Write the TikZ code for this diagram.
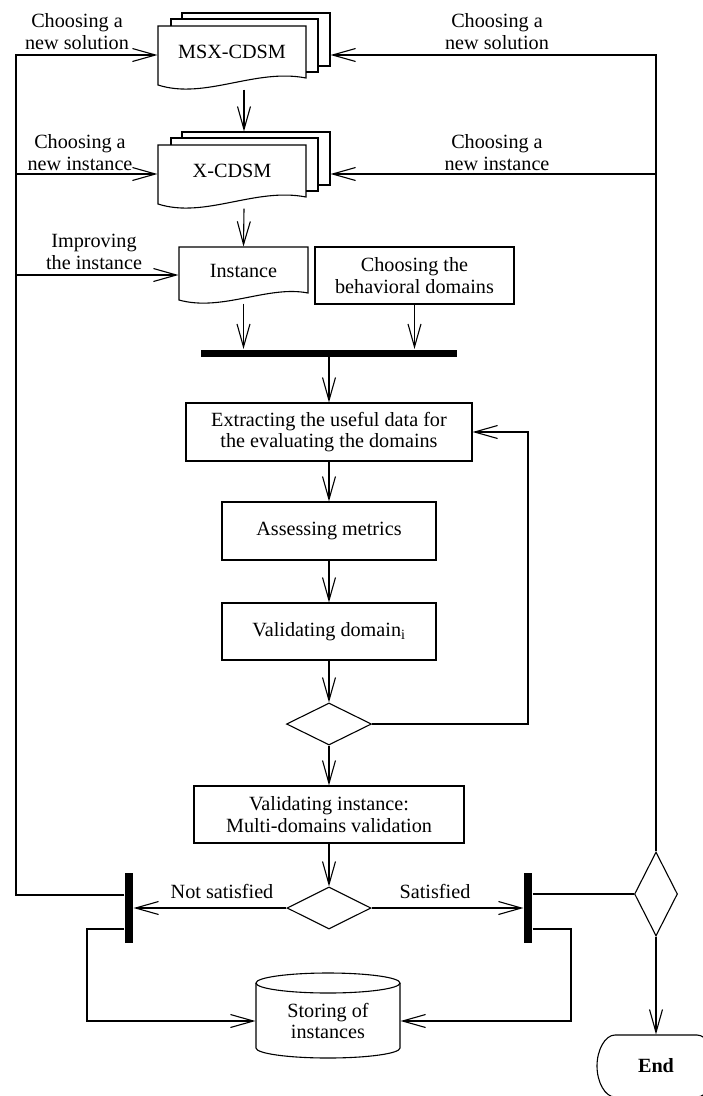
\documentclass[tikz,border=0pt]{standalone}
\usepackage{fontspec}
\setmainfont{Liberation Serif}
\usetikzlibrary{arrows.meta,shapes.geometric,calc}
\newcommand\mystack[1]{%
  \begin{scope}[shift={(0,#1)}]
    \draw (182,19) -- (182,13) -- (330,13) -- (330,66) -- (318,66);
    \draw (171,26) -- (171,19) -- (318,19) -- (318,72) -- (306,72);
    \draw (158,26) -- (306,26) -- (306,78) .. controls (255,68) and (205,100) .. (158,85) -- cycle;
  \end{scope}}
\begin{document}
\begin{tikzpicture}[x=1pt,y=-1pt,
  line width=1.1pt,
  font=\fontsize{20.2}{21.5}\selectfont,
  arr/.style={-{Straight Barb[length=23pt,width=13pt,line width=1.1pt]}},
  txt/.style={align=center, inner sep=0pt},
  box/.style={draw, rectangle, align=center, inner sep=0pt},
  dec/.style={draw, diamond, inner sep=0pt},
  barnode/.style={fill=black, rectangle, inner sep=0pt},
  hole/.style={inner sep=0pt, rectangle}
]
\useasboundingbox (0,0) rectangle (703,1096);
\clip (0,0) rectangle (703,1096);

% document stacks
\mystack{0}
\mystack{119}
\node[hole, minimum width=148pt, minimum height=59pt, label={[txt,yshift=3pt]center:MSX-CDSM}] (msx) at (232,55) {};
\node[hole, minimum width=172pt, minimum height=76pt] (msxstack) at (244,51) {};
\node[hole, minimum width=148pt, minimum height=59pt, label={[txt,yshift=3pt]center:X-CDSM}] (xc) at (232,174) {};
\node[hole, minimum width=172pt, minimum height=76pt] (xcstack) at (244,170) {};

% instance document
\draw (179,247) -- (308,247) -- (308,293) .. controls (268,285) and (222,312) .. (179,300) -- cycle;
\node[hole, minimum width=129pt, minimum height=56pt, label={[txt,yshift=4pt]center:Instance}] (inst) at (243.5,275) {};

\node[box, minimum width=199pt, minimum height=57pt] (choose) at (414.5,275.5) {Choosing the\\behavioral domains};
\node[barnode, minimum width=256pt, minimum height=7pt] (bar) at (329,353) {};
\node[box, minimum width=286pt, minimum height=58pt] (extract) at (329,432) {Extracting the useful data for\\the evaluating the domains};
\node[box, minimum width=214pt, minimum height=58pt] (assess) at (329,531) {Assessing metrics};
\node[box, minimum width=214pt, minimum height=57pt] (valid) at (329,631.5) {Validating domain\textsubscript{i}};
\node[dec, minimum width=85pt, minimum height=42pt] (d1) at (329,724) {};
\node[box, minimum width=270pt, minimum height=57pt] (valinst) at (329,814.5) {Validating instance:\\Multi-domains validation};
\node[dec, minimum width=84pt, minimum height=42pt] (d2) at (329,908) {};
\node[barnode, minimum width=8pt, minimum height=70pt] (lbar) at (129,908) {};
\node[barnode, minimum width=8pt, minimum height=70pt] (rbar) at (528,908) {};
\node[dec, minimum width=43pt, minimum height=84pt] (d3) at (656,894) {};

% end terminator (cut by the page edge)
\draw (697,1035) -- (615,1035) .. controls (605,1035) and (597,1050) .. (597,1066)
      .. controls (597,1082) and (605,1097) .. (615,1097) -- (697,1097)
      .. controls (707,1097) and (715,1082) .. (715,1066)
      .. controls (715,1050) and (707,1035) .. (697,1035);
\node[txt, minimum width=118pt, minimum height=62pt, font=\fontsize{20.2}{21.5}\selectfont\bfseries] (endn) at (656,1066) {End};

% cylinder
\draw (328,983) ellipse [x radius=72pt, y radius=10pt];
\draw (256,983) -- (256,1048) .. controls (256,1053.5) and (288.2,1058) .. (328,1058) .. controls (367.8,1058) and (400,1053.5) .. (400,1048) -- (400,983);
\node[txt, minimum width=144pt] (store) at (328,1021) {Storing of\\instances};

% labels
\node[txt] (l1) at (77,31.5) {Choosing a\\new solution};
\node[txt] (r1) at (497,31.5) {Choosing a\\new solution};
\node[txt] (l2) at (80,152.5) {Choosing a\\new instance};
\node[txt] (r2) at (497,152.5) {Choosing a\\new instance};
\node[txt] (l3) at (94,252) {Improving\\the instance};
\node[txt] (ns) at (222,891) {Not satisfied};
\node[txt] (sat) at (435,891) {Satisfied};

% coordinates
\coordinate (lt) at (16,895);
\coordinate (loopx) at (528,724);
\coordinate (lb) at (87,929);
\coordinate (rb) at (571,929);

% connectors
\draw[arr] (msxstack.south) -- (xcstack.north);
\draw[arr] (xcstack.south) -- (inst.north);
\draw[arr] (inst.south) -- (inst.south |- bar.north);
\draw[arr] (choose.south) -- (choose.south |- bar.north);
\draw[arr] (bar.south) -- (extract.north);
\draw[arr] (extract) -- (assess);
\draw[arr] (assess) -- (valid);
\draw[arr] (valid) -- (d1);
\draw[arr] (d1.east) -- (loopx) |- (extract.east);
\draw[arr] (d1) -- (valinst);
\draw[arr] (valinst) -- (d2);
\draw[arr] (d2.west) -- (lbar.east);
\draw[arr] (d2.east) -- (rbar.west);

\draw[arr] (lbar.west |- lt) -- (lt) |- (msx.west);
\draw[arr] (lt |- xc.west) -- (xc.west);
\draw[arr] (lt |- inst.west) -- (inst.west);

\draw (rbar.east |- d3.west) -- (d3.west);
\draw[arr] (d3.north) -- (d3.north |- msx) -- (msx -| msxstack.east);
\draw[arr] (d3.north |- xc) -- (xc -| xcstack.east);
\draw[arr] (d3.south) -- (endn.north);

\draw[arr] (lbar.west |- lb) -- (lb) |- (store.west);
\draw[arr] (rbar.east |- rb) -- (rb) |- (store.east);
\end{tikzpicture}
\end{document}
